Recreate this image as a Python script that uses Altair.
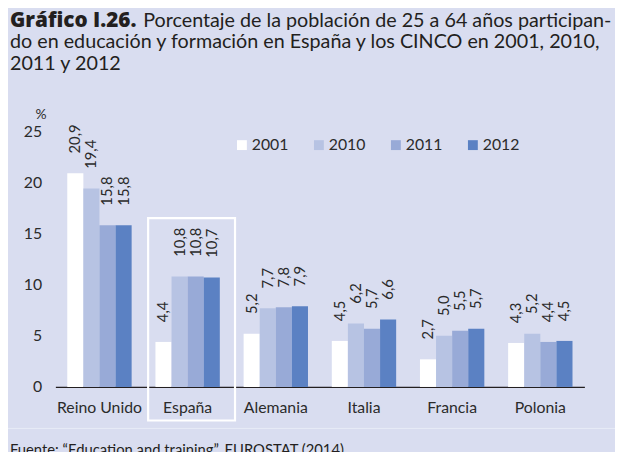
import altair as alt
import pandas as pd

countries = ["Reino Unido", "España", "Alemania", "Italia", "Francia", "Polonia"]
years = ["2001", "2010", "2011", "2012"]
v2001 = [20.9, 4.4, 5.2, 4.5, 2.7, 4.3]
v2010 = [19.4, 10.8, 7.7, 6.2, 5.0, 5.2]
v2011 = [15.8, 10.8, 7.8, 5.7, 5.5, 4.4]
v2012 = [15.8, 10.7, 7.9, 6.6, 5.7, 4.5]
y_ticks = [0, 5, 10, 15, 20, 25]
highlight = ["España"]

title_bold = "Gráfico I.26."
title_l1 = "Porcentaje de la población de 25 a 64 años participan-"
title_l2 = "do en educación y formación en España y los CINCO en 2001, 2010,"
title_l3 = "2011 y 2012"
source = "Fuente: “Education and training”, EUROSTAT (2014)"

rows = []
for yr, vals in zip(years, [v2001, v2010, v2011, v2012]):
    for c, v in zip(countries, vals):
        rows.append({"pais": c, "anio": yr, "valor": v,
                     "etiqueta": f"{v:.1f}".replace(".", ",")})
df = pd.DataFrame(rows)

FONT = "Lato"
TXT = "#2b2b2b"
BG = "#D9DDF0"
colors = ["#FFFFFF", "#B7C3E3", "#98AAD7", "#5B81C3"]

xenc = alt.X("pais:N", sort=countries, title=None,
             scale=alt.Scale(paddingInner=0.27, paddingOuter=0.135),
             axis=alt.Axis(labelAngle=0, labelAlign="center", labelBaseline="top",
                           labelFontSize=16, labelColor=TXT,
                           labelFont=FONT, labelPadding=13, ticks=False,
                           domainColor="#231F20", domainWidth=1.2))
xoff = alt.XOffset("anio:N", sort=years,
                   scale=alt.Scale(paddingInner=0, paddingOuter=0))
yenc = alt.Y("valor:Q", scale=alt.Scale(domain=[0, 25], nice=False),
             axis=alt.Axis(values=y_ticks, grid=False, domain=False, ticks=False,
                           labelFontSize=16, labelColor=TXT, labelFont=FONT,
                           labelPadding=14, title="%", titleAngle=0,
                           titleX=-15, titleY=-17, titleFontSize=14,
                           titleFontWeight="normal", titleColor=TXT,
                           titleFont=FONT, titleAlign="center",
                           titleBaseline="middle"))

base = alt.Chart(df)

bars = base.mark_bar(strokeWidth=0).encode(
    x=xenc, xOffset=xoff, y=yenc,
    color=alt.Color("anio:N", sort=years, title=None,
                    scale=alt.Scale(domain=years, range=colors),
                    legend=alt.Legend(orient="none", legendX=181, legendY=6,
                                      direction="horizontal", columns=4,
                                      symbolType="square", symbolSize=100,
                                      symbolStrokeWidth=0, labelFontSize=16,
                                      labelFont=FONT, labelColor=TXT,
                                      labelOffset=2, columnPadding=22,
                                      gridAlign="all"))
)

labels = base.mark_text(angle=270, align="left", baseline="middle", dx=20,
                        fontSize=15, font=FONT, color=TXT).encode(
    x=xenc, xOffset=xoff, y=yenc, text="etiqueta:N"
)

box = alt.Chart(pd.DataFrame({"pais": highlight})).mark_bar(
    fillOpacity=0, stroke="white", strokeWidth=2.2,
    width={"band": 1.35}).encode(
    x=alt.X("pais:N", sort=countries),
    xOffset=alt.value(4),
    y=alt.value(88), y2=alt.value(293)
)

sep = alt.Chart(pd.DataFrame({"a": [0]})).mark_rule(
    color="#E8EBF7", strokeWidth=1).encode(
    x=alt.value(-48), x2=alt.value(570), y=alt.value(301))

def txt(s, x, y, size=20, weight="normal", font=FONT):
    return alt.Chart(pd.DataFrame({"t": [s]})).mark_text(
        align="left", baseline="alphabetic", fontSize=size, font=font,
        fontWeight=weight, color="#231F20").encode(
        text="t:N", x=alt.value(x), y=alt.value(y))

titles = (txt(title_bold, -46, -106, size=21, weight=800, font="Open Sans") +
          txt(title_l1, 89, -106) +
          txt(title_l2, -46, -84) +
          txt(title_l3, -46, -62) +
          txt(source, -46, 328, size=15))

chart = alt.layer(box, sep, bars, labels, titles).properties(
    width=536, height=259,
    autosize=alt.AutoSizeParams(type="none"),
    padding={"left": 48, "top": 122, "right": 31, "bottom": 63},
    background=BG,
).configure_view(stroke=None)

chart.save("out.html", embed_options={"renderer": "svg", "actions": False})
